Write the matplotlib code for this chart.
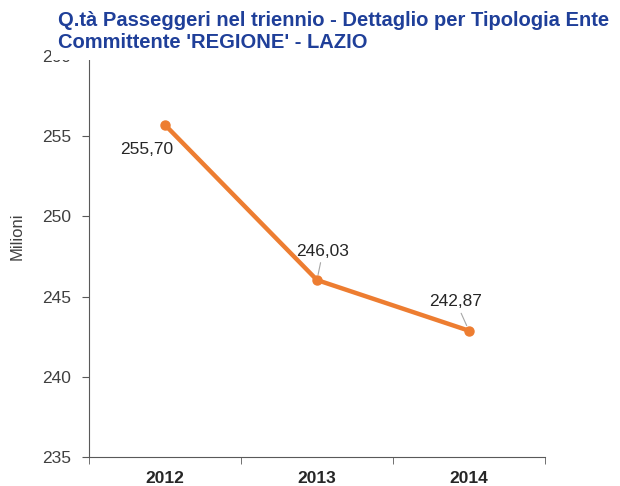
import matplotlib.pyplot as plt

anni = ['2012', '2013', '2014']
passeggeri = [255.70, 246.03, 242.87]
etichette = ['255,70', '246,03', '242,87']
y_ticks = [235, 240, 245, 250, 255, 260]

plt.rcParams['font.family'] = ['Liberation Sans', 'DejaVu Sans']

fig = plt.figure(figsize=(6.2, 4.86), dpi=100)
ax = fig.add_axes([0.1435, 0.0597, 0.7355, 0.8253])

x = range(len(anni))
ax.plot(x, passeggeri, color='#ED7D31', linewidth=3.2, marker='o', markersize=6.5)

# etichette dei valori (offset in pixel)
offsets = [(-18, -25), (6, 29), (-13, 29)]
for i, (val, lab) in enumerate(zip(passeggeri, etichette)):
    arrow = None if i == 0 else dict(arrowstyle='-', color='#A6A6A6', lw=0.8, shrinkA=1, shrinkB=4)
    ax.annotate(lab, (i, val), xytext=offsets[i], textcoords='offset pixels',
                ha='center', va='center', fontsize=12.5, color='#262626',
                arrowprops=arrow)

ax.set_xlim(-0.5, 2.5)
ax.set_ylim(235, 260)
ax.set_yticks(y_ticks)
ax.set_yticklabels([str(v) for v in y_ticks], fontsize=12.5, color='#404040')
ax.set_xticks(list(x))
ax.set_xticklabels(anni, fontsize=12.5, fontweight='bold', color='#262626')
ax.set_xticks([-0.5, 0.5, 1.5, 2.5], minor=True)
ax.tick_params(axis='x', which='major', length=0, pad=10)
ax.tick_params(axis='x', which='minor', length=5, color='#595959')
ax.tick_params(axis='y', length=5, color='#595959', pad=8)
for s in ['top', 'right']:
    ax.spines[s].set_visible(False)
for s in ['left', 'bottom']:
    ax.spines[s].set_color('#595959')
ax.set_ylabel('Milioni', fontsize=12, color='#404040')
ax.yaxis.set_label_coords(-0.142, 0.551)

# titolo con sfondo bianco (copre in parte l'etichetta 260 come nell'originale)
fig.text(0.094, 0.935, "Q.tà Passeggeri nel triennio - Dettaglio per Tipologia Ente\nCommittente 'REGIONE' - LAZIO",
         fontsize=14.5, fontweight='bold', color='#1F3F99', ha='left', va='center',
         linespacing=1.25, bbox=dict(facecolor='white', edgecolor='none', pad=5.5))

fig.savefig('out.png', dpi=100)
